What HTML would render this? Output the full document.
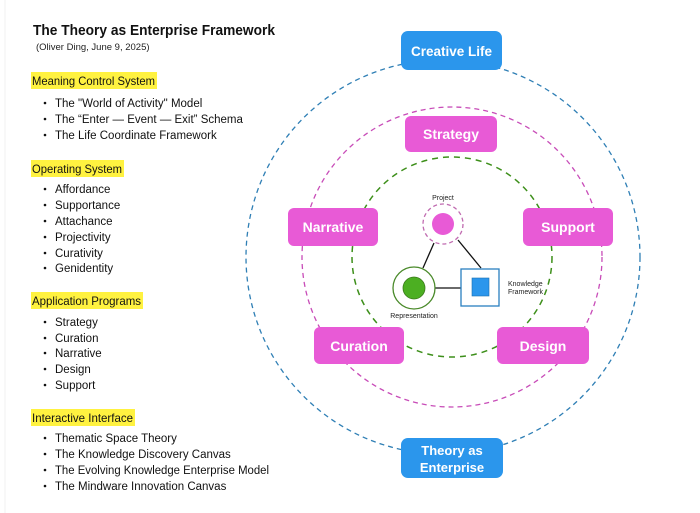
<!DOCTYPE html>
<html><head><meta charset="utf-8"><style>
html,body{margin:0;padding:0;background:#fff;}
svg{display:block;font-family:"Liberation Sans",sans-serif;}
</style></head><body>
<svg width="700" height="513" viewBox="0 0 700 513">
<rect x="0" y="0" width="700" height="513" fill="#fff"/>
<line x1="5" y1="0" x2="5" y2="513" stroke="#f2f2f2" stroke-width="1"/>
<text x="33" y="35" font-size="14.5" font-weight="bold" fill="#111" textLength="242" lengthAdjust="spacingAndGlyphs">The Theory as Enterprise Framework</text>
<text x="36" y="50" font-size="9.5" fill="#222">(Oliver Ding, June 9, 2025)</text>

<g font-size="12" fill="#111">
<rect x="31" y="72" width="126" height="17" fill="#fff240"/>
<text x="32" y="85" textLength="123" lengthAdjust="spacingAndGlyphs">Meaning Control System</text>
<rect x="31" y="160" width="93" height="17" fill="#fff240"/>
<text x="32" y="173" textLength="90" lengthAdjust="spacingAndGlyphs">Operating System</text>
<rect x="31" y="292" width="112" height="17" fill="#fff240"/>
<text x="32" y="305" textLength="109" lengthAdjust="spacingAndGlyphs">Application Programs</text>
<rect x="31" y="409" width="104" height="17" fill="#fff240"/>
<text x="32" y="422" textLength="101" lengthAdjust="spacingAndGlyphs">Interactive Interface</text>
</g>
<g font-size="11.5" fill="#111">
<text x="55" y="107">The "World of Activity" Model</text>
<text x="55" y="123">The “Enter — Event — Exit” Schema</text>
<text x="55" y="139">The Life Coordinate Framework</text>
<text x="55" y="193">Affordance</text>
<text x="55" y="209">Supportance</text>
<text x="55" y="225">Attachance</text>
<text x="55" y="241">Projectivity</text>
<text x="55" y="257">Curativity</text>
<text x="55" y="272">Genidentity</text>
<text x="55" y="326">Strategy</text>
<text x="55" y="342">Curation</text>
<text x="55" y="357">Narrative</text>
<text x="55" y="373">Design</text>
<text x="55" y="389">Support</text>
<text x="55" y="442">Thematic Space Theory</text>
<text x="55" y="458">The Knowledge Discovery Canvas</text>
<text x="55" y="474" textLength="214" lengthAdjust="spacingAndGlyphs">The Evolving Knowledge Enterprise Model</text>
<text x="55" y="490">The Mindware Innovation Canvas</text>
</g>
<g fill="#111">
<circle cx="45" cy="103" r="1.3"/><circle cx="45" cy="119" r="1.3"/><circle cx="45" cy="135" r="1.3"/>
<circle cx="45" cy="189" r="1.3"/><circle cx="45" cy="205" r="1.3"/><circle cx="45" cy="221" r="1.3"/><circle cx="45" cy="237" r="1.3"/><circle cx="45" cy="253" r="1.3"/><circle cx="45" cy="268" r="1.3"/>
<circle cx="45" cy="322" r="1.3"/><circle cx="45" cy="338" r="1.3"/><circle cx="45" cy="353" r="1.3"/><circle cx="45" cy="369" r="1.3"/><circle cx="45" cy="385" r="1.3"/>
<circle cx="45" cy="438" r="1.3"/><circle cx="45" cy="454" r="1.3"/><circle cx="45" cy="470" r="1.3"/><circle cx="45" cy="486" r="1.3"/>
</g>

<circle cx="443" cy="257" r="197" fill="none" stroke="#2f7fb5" stroke-width="1.3" stroke-dasharray="5,4"/>
<circle cx="452" cy="257" r="150" fill="none" stroke="#c84cb8" stroke-width="1.3" stroke-dasharray="5,4"/>
<circle cx="452" cy="257" r="100" fill="none" stroke="#3d8f1a" stroke-width="1.5" stroke-dasharray="6,5"/>

<g font-weight="bold" fill="#fff" text-anchor="middle">
<rect x="401" y="31" width="101" height="39" rx="7" fill="#2b96ec"/>
<text x="451.5" y="56" font-size="13.5">Creative Life</text>
<rect x="401" y="438" width="102" height="40" rx="7" fill="#2b96ec"/>
<text x="452" y="455" font-size="13">Theory as</text>
<text x="452" y="472" font-size="13">Enterprise</text>
<g font-size="14">
<rect x="405" y="116" width="92" height="36" rx="6" fill="#e85ad6"/>
<text x="451" y="139">Strategy</text>
<rect x="288" y="208" width="90" height="38" rx="6" fill="#e85ad6"/>
<text x="333" y="232">Narrative</text>
<rect x="523" y="208" width="90" height="38" rx="6" fill="#e85ad6"/>
<text x="568" y="232">Support</text>
<rect x="314" y="327" width="90" height="37" rx="6" fill="#e85ad6"/>
<text x="359" y="351">Curation</text>
<rect x="497" y="327" width="92" height="37" rx="6" fill="#e85ad6"/>
<text x="543" y="351">Design</text>
</g>
</g>

<line x1="434" y1="243" x2="423" y2="268" stroke="#111" stroke-width="1.3"/>
<line x1="458" y1="240" x2="481" y2="268" stroke="#111" stroke-width="1.3"/>
<line x1="435" y1="288" x2="461" y2="288" stroke="#111" stroke-width="1.3"/>
<circle cx="443" cy="224" r="20" fill="#fff" stroke="#c06ab0" stroke-width="1.3" stroke-dasharray="4,3"/>
<circle cx="443" cy="224" r="11" fill="#e85ad6"/>
<circle cx="414" cy="288" r="21" fill="#fff" stroke="#4a8a2a" stroke-width="1.3"/>
<circle cx="414" cy="288" r="11" fill="#4caf22" stroke="#3a7a1a" stroke-width="0.8"/>
<rect x="461" y="269" width="38" height="37" fill="#fff" stroke="#2a7fc0" stroke-width="1.3"/>
<rect x="472" y="278" width="17" height="18" fill="#2b96ec" stroke="#1a6fb0" stroke-width="0.6"/>
<g font-size="7" fill="#222">
<text x="443" y="200" text-anchor="middle">Project</text>
<text x="414" y="318" text-anchor="middle">Representation</text>
<text x="508" y="286">Knowledge</text>
<text x="508" y="294">Framework</text>
</g>
</svg>
</body></html>
